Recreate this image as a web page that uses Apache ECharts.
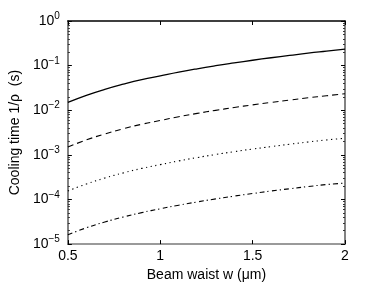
<!DOCTYPE html>
<html>
<head>
<meta charset="utf-8">
<script src="https://cdn.jsdelivr.net/npm/echarts@6/dist/echarts.min.js"></script>
<style>html,body{margin:0;padding:0;background:#fff;}#c{width:382px;height:287px;}</style>
</head>
<body>
<div id="c"></div>
<script>
var waist = [0.5, 0.6, 0.7, 0.8, 0.9, 1.0, 1.1, 1.2, 1.3, 1.4, 1.5, 1.6, 1.7, 1.8, 1.9, 2.0];
var solidVals = [0.015, 0.0216, 0.0294, 0.0384, 0.0486, 0.059, 0.0715, 0.085, 0.0995, 0.115, 0.132, 0.15, 0.169, 0.19, 0.211, 0.234];
var dashedVals = [0.0015, 0.00216, 0.00294, 0.00384, 0.00486, 0.0059, 0.00715, 0.0085, 0.00995, 0.0115, 0.0132, 0.015, 0.0169, 0.019, 0.0211, 0.0234];
var dottedVals = [0.000155, 0.000222, 0.000302, 0.000394, 0.000497, 0.000605, 0.000732, 0.00087, 0.00102, 0.00118, 0.00135, 0.00153, 0.00173, 0.00194, 0.00216, 0.00235];
var dashDotVals = [0.0000162, 0.0000232, 0.0000313, 0.0000405, 0.0000508, 0.000062, 0.0000745, 0.000088, 0.000103, 0.000119, 0.000136, 0.000155, 0.000174, 0.000195, 0.000216, 0.000233];
var xTicks = [0.5, 1, 1.5, 2];
var yMajor = [1e-5, 1e-4, 1e-3, 1e-2, 1e-1, 1];
var yMinor = [];
for (var d = -5; d < 0; d++) { for (var m = 2; m <= 9; m++) { yMinor.push(Number((m * Math.pow(10, d)).toPrecision(3))); } }

function pairs(xs, ys) { return xs.map(function (x, i) { return [x, ys[i]]; }); }
var font = 'Liberation Sans, Arial, Helvetica, sans-serif';
var gray = '#7a7a7a';

function yAx(pos, minor) {
  return {
    type: 'log', logBase: 10, min: 1e-5, max: 1, position: pos,
    axisLine: { show: true, lineStyle: { color: gray, width: 1.5 } },
    axisTick: { show: true, inside: true, length: minor ? 2 : 4, customValues: minor ? yMinor : yMajor, lineStyle: { color: minor ? '#333' : '#000', width: 1 } },
    axisLabel: minor || pos === 'right' ? { show: false } : {
      show: true, margin: 8, customValues: yMajor,
      formatter: function (v) {
        var e = Math.round(Math.log10(v));
        return '{b|10}{s|' + (e === 0 ? '0' : '\u2212' + (-e)) + '}';
      },
      rich: {
        b: { fontSize: 14, fontFamily: font, color: '#000' },
        s: { fontSize: 10, fontFamily: font, color: '#000', padding: [0, 0, 9, 0] }
      }
    },
    splitLine: { show: false }, minorTick: { show: false }
  };
}

var option = {
  animation: false,
  backgroundColor: '#fff',
  grid: { left: 53, right: 37, top: 21, bottom: 37, containLabel: false },
  xAxis: [{
    type: 'value', min: 0.5, max: 2, interval: 0.5, position: 'bottom',
    name: 'Beam waist w (\u03bcm)', nameLocation: 'middle', nameGap: 22,
    nameTextStyle: { fontSize: 14, fontFamily: font, color: '#000' },
    axisLine: { show: true, lineStyle: { color: gray, width: 1.5 } },
    axisTick: { show: true, inside: true, length: 4, customValues: xTicks, lineStyle: { color: '#000' } },
    axisLabel: { fontSize: 14, fontFamily: font, color: '#000', margin: 5, customValues: xTicks, formatter: function (v) { return String(v); } },
    splitLine: { show: false }
  }, {
    type: 'value', min: 0.5, max: 2, interval: 0.5, position: 'top',
    axisLine: { show: true, lineStyle: { color: '#000', width: 1.5 } },
    axisTick: { show: true, inside: true, length: 4, lineStyle: { color: '#000' } },
    axisLabel: { show: false }, splitLine: { show: false }
  }],
  yAxis: [
    Object.assign(yAx('left', false), {
      name: 'Cooling time 1/\u03c1  (s)', nameLocation: 'middle', nameGap: 36,
      nameTextStyle: { fontSize: 14, fontFamily: font, color: '#000' }
    }),
    yAx('left', true),
    yAx('right', false),
    yAx('right', true)
  ],
  series: [
    { type: 'line', data: pairs(waist, solidVals), smooth: true, showSymbol: false, lineStyle: { color: '#000', width: 1.3, type: 'solid' } },
    { type: 'line', data: pairs(waist, dashedVals), smooth: true, showSymbol: false, lineStyle: { color: '#000', width: 1.1, type: [6, 4] } },
    { type: 'line', data: pairs(waist, dottedVals), smooth: true, showSymbol: false, lineStyle: { color: '#000', width: 1.1, type: [1.3, 3.5] } },
    { type: 'line', data: pairs(waist, dashDotVals), smooth: true, showSymbol: false, lineStyle: { color: '#000', width: 1.1, type: [5, 3, 1.3, 3] } }
  ]
};
echarts.init(document.getElementById('c'), null, { renderer: 'canvas' }).setOption(option);
</script>
</body>
</html>
